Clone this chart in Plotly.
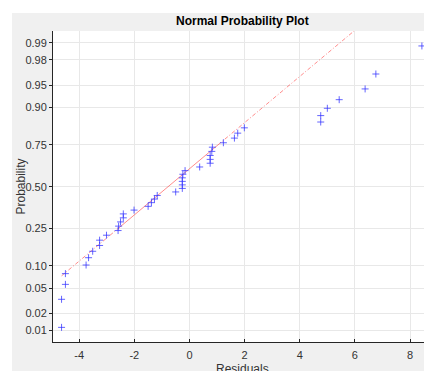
import plotly.graph_objects as go
from statistics import NormalDist

# Sorted residuals
residuals = [-4.64, -4.64, -4.50, -4.50, -3.75, -3.66, -3.51, -3.26, -3.26, -3.01,
             -2.59, -2.57, -2.50, -2.40, -2.40, -2.01, -1.50, -1.38, -1.27, -1.17,
             -0.50, -0.26, -0.26, -0.26, -0.26, -0.24, -0.16, 0.37, 0.75, 0.75,
             0.75, 0.81, 0.83, 1.23, 1.63, 1.75, 1.99, 4.76, 4.76, 5.00,
             5.43, 6.37, 6.76, 8.43]

prob_ticks = [0.01, 0.02, 0.05, 0.10, 0.25, 0.50, 0.75, 0.90, 0.95, 0.98, 0.99]
prob_labels = ["0.01", "0.02", "0.05", "0.10", "0.25", "0.50", "0.75", "0.90", "0.95", "0.98", "0.99"]
x_ticks = [-4, -2, 0, 2, 4, 6, 8]
x_labels = ["-4", "-2", "0", "2", "4", "6", "8"]

nd = NormalDist()
xs = sorted(residuals)
n = len(xs)
# plotting positions (i-0.5)/n on the normal-quantile scale
zs = [nd.inv_cdf((i + 0.5) / n) for i in range(n)]


def prctile(vals, p):
    # MATLAB-style percentile (midpoint interpolation)
    pos = n * p / 100.0 + 0.5
    lo = int(pos)
    frac = pos - lo
    lo = max(1, min(n, lo))
    hi = max(1, min(n, lo + 1))
    return vals[lo - 1] + frac * (vals[hi - 1] - vals[lo - 1])


q1 = prctile(xs, 25)
q3 = prctile(xs, 75)
zq1, zq3 = nd.inv_cdf(0.25), nd.inv_cdf(0.75)
slope = (zq3 - zq1) / (q3 - q1)


def line_z(x):
    return zq1 + slope * (x - q1)


line_color = "rgba(255,0,0,0.45)"
dashdot = "4px,2px,1px,2px"
fig = go.Figure()
fig.add_trace(go.Scatter(x=[xs[0], q1], y=[line_z(xs[0]), line_z(q1)], mode="lines",
                         line=dict(color=line_color, width=1, dash=dashdot), hoverinfo="skip"))
fig.add_trace(go.Scatter(x=[q1, q3], y=[line_z(q1), line_z(q3)], mode="lines",
                         line=dict(color=line_color, width=1), hoverinfo="skip"))
fig.add_trace(go.Scatter(x=[q3, xs[-1]], y=[line_z(q3), line_z(xs[-1])], mode="lines",
                         line=dict(color=line_color, width=1, dash=dashdot), hoverinfo="skip"))
fig.add_trace(go.Scatter(x=xs, y=zs, mode="markers",
                         marker=dict(symbol="cross-thin", size=5,
                                     line=dict(color="rgba(50,50,255,0.75)", width=1))))

font_family = "Liberation Sans, Arial, sans-serif"
# The page adds an 8px body margin; the figure is sized to fill the rest of the window.
OFF = 8
W, H = 432 - OFF, 371 - OFF
L, R, T, B = 53 - OFF, 1, 31 - OFF, 29
pw, ph = W - L - R, H - T - B

fig.update_layout(
    width=W, height=H,
    margin=dict(l=L, r=R, t=T, b=B, autoexpand=False),
    paper_bgcolor="#f0f0f0",
    plot_bgcolor="white",
    showlegend=False,
    font=dict(family=font_family, size=11, color="#333333"),
    xaxis=dict(range=[-4.95, 8.76], tickvals=x_ticks, ticktext=x_labels,
               showgrid=True, gridcolor="#e8e8e8", gridwidth=1, zeroline=False,
               showline=True, linecolor="#262626", linewidth=1,
               ticks="inside", ticklen=3, tickcolor="#262626", automargin=False,
               ticklabelstandoff=3,
               tickfont=dict(size=11, color="#333333")),
    yaxis=dict(range=[-2.515, 2.52], tickvals=[nd.inv_cdf(p) for p in prob_ticks], ticktext=prob_labels,
               showgrid=True, gridcolor="#e8e8e8", gridwidth=1, zeroline=False,
               showline=True, linecolor="#262626", linewidth=1,
               ticks="outside", ticklen=3, tickcolor="#262626", automargin=False,
               tickfont=dict(size=11, color="#333333")),
    shapes=[
        dict(type="rect", xref="paper", yref="paper",
             x0=-L / pw - 0.01, x1=(12 - OFF - L) / pw, y0=-B / ph - 0.01, y1=1 + T / ph + 0.01,
             fillcolor="white", line=dict(width=0), layer="above"),
        dict(type="rect", xref="paper", yref="paper",
             x0=-L / pw - 0.01, x1=1 + R / pw + 0.01, y0=1 + (T - (13 - OFF)) / ph, y1=1 + T / ph + 0.01,
             fillcolor="white", line=dict(width=0), layer="above"),
    ],
    annotations=[
        dict(text="<b>Normal Probability Plot</b>", xref="paper", yref="paper",
             x=0.5, y=1 + (T - (21.5 - OFF)) / ph, xanchor="center", yanchor="middle",
             showarrow=False, font=dict(size=12, color="black")),
        dict(text="Residuals", xref="paper", yref="paper",
             x=0.5, y=-((369 - OFF) - (H - B)) / ph, xanchor="center", yanchor="middle",
             showarrow=False, font=dict(size=12, color="#333333")),
        dict(text="Probability", xref="paper", yref="paper", textangle=-90,
             x=((20 - OFF) - L) / pw, y=0.5, xanchor="center", yanchor="middle",
             showarrow=False, font=dict(size=12, color="#333333")),
    ],
)

fig.write_html("out.html")
